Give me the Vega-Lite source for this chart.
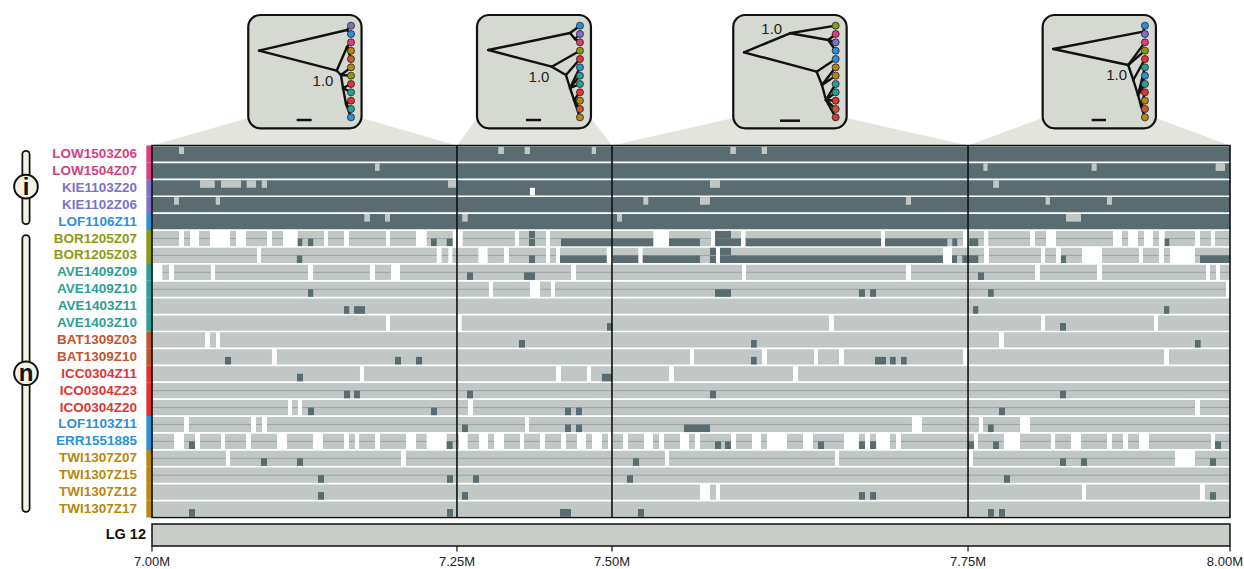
{
"$schema":"https://vega.github.io/schema/vega-lite/v6.json",
"width":1244,"height":569,"autosize":{"type":"none"},"padding":0,"background":"white",
"config":{"view":{"stroke":null},"font":"Liberation Sans"},
"datasets":{
"samples":[
{"s":"LOW1503Z06","g":"LOW"},{"s":"LOW1504Z07","g":"LOW"},{"s":"KIE1103Z20","g":"KIE"},{"s":"KIE1102Z06","g":"KIE"},{"s":"LOF1106Z11","g":"LOF"},
{"s":"BOR1205Z07","g":"BOR"},{"s":"BOR1205Z03","g":"BOR"},{"s":"AVE1409Z09","g":"AVE"},{"s":"AVE1409Z10","g":"AVE"},{"s":"AVE1403Z11","g":"AVE"},{"s":"AVE1403Z10","g":"AVE"},
{"s":"BAT1309Z03","g":"BAT"},{"s":"BAT1309Z10","g":"BAT"},{"s":"ICC0304Z11","g":"ICO"},{"s":"ICO0304Z23","g":"ICO"},{"s":"ICO0304Z20","g":"ICO"},
{"s":"LOF1103Z11","g":"LOF"},{"s":"ERR1551885","g":"LOF"},{"s":"TWI1307Z07","g":"TWI"},{"s":"TWI1307Z15","g":"TWI"},{"s":"TWI1307Z12","g":"TWI"},{"s":"TWI1307Z17","g":"TWI"}],
"full":[
{"s":"LOW1503Z06","a":7000,"b":8000,"c":"D"},{"s":"LOW1504Z07","a":7000,"b":8000,"c":"D"},{"s":"KIE1103Z20","a":7000,"b":8000,"c":"D"},{"s":"KIE1102Z06","a":7000,"b":8000,"c":"D"},{"s":"LOF1106Z11","a":7000,"b":8000,"c":"D"},
{"s":"BOR1205Z07","a":7000,"b":7025.0,"c":"L"},{"s":"BOR1205Z07","a":7029.7,"b":7035.3,"c":"L"},{"s":"BOR1205Z07","a":7043.6,"b":7053.8,"c":"L"},{"s":"BOR1205Z07","a":7072.4,"b":7077.9,"c":"L"},{"s":"BOR1205Z07","a":7087.2,"b":7106.7,"c":"L"},{"s":"BOR1205Z07","a":7111.3,"b":7121.5,"c":"L"},{"s":"BOR1205Z07","a":7135.2,"b":7159.6,"c":"L"},{"s":"BOR1205Z07","a":7163.3,"b":7178.1,"c":"L"},{"s":"BOR1205Z07","a":7182.7,"b":7217.1,"c":"L"},{"s":"BOR1205Z07","a":7220.8,"b":7244.9,"c":"L"},{"s":"BOR1205Z07","a":7254.8,"b":7278.9,"c":"L"},{"s":"BOR1205Z07","a":7288.2,"b":7336.7,"c":"L"},{"s":"BOR1205Z07","a":7340.4,"b":7365.5,"c":"L"},{"s":"BOR1205Z07","a":7369.2,"b":7465.0,"c":"L"},{"s":"BOR1205Z07","a":7479.6,"b":7518.5,"c":"L"},{"s":"BOR1205Z07","a":7522.3,"b":7546.4,"c":"L"},{"s":"BOR1205Z07","a":7550.7,"b":7676.3,"c":"L"},{"s":"BOR1205Z07","a":7680.0,"b":7752.3,"c":"L"},{"s":"BOR1205Z07","a":7757.2,"b":7771.8,"c":"L"},{"s":"BOR1205Z07","a":7775.8,"b":7814.5,"c":"L"},{"s":"BOR1205Z07","a":7819.1,"b":7829.3,"c":"L"},{"s":"BOR1205Z07","a":7838.6,"b":7891.5,"c":"L"},{"s":"BOR1205Z07","a":7899.9,"b":7905.5,"c":"L"},{"s":"BOR1205Z07","a":7914.6,"b":7920.2,"c":"L"},{"s":"BOR1205Z07","a":7928.6,"b":7934.1,"c":"L"},{"s":"BOR1205Z07","a":7939.4,"b":7967.5,"c":"L"},{"s":"BOR1205Z07","a":7972.2,"b":7982.4,"c":"L"},{"s":"BOR1205Z07","a":7986.1,"b":8000,"c":"L"},{"s":"BOR1205Z07","a":7349.7,"b":7355.3,"c":"D"},
{"s":"BOR1205Z03","a":7000,"b":7097.4,"c":"L"},{"s":"BOR1205Z03","a":7101.1,"b":7264.1,"c":"L"},{"s":"BOR1205Z03","a":7268.7,"b":7274.9,"c":"L"},{"s":"BOR1205Z03","a":7278.6,"b":7302.7,"c":"L"},{"s":"BOR1205Z03","a":7311.4,"b":7326.5,"c":"L"},{"s":"BOR1205Z03","a":7331.2,"b":7365.5,"c":"L"},{"s":"BOR1205Z03","a":7369.2,"b":7374.8,"c":"L"},{"s":"BOR1205Z03","a":7378.5,"b":7421.8,"c":"L"},{"s":"BOR1205Z03","a":7427.4,"b":7451.1,"c":"L"},{"s":"BOR1205Z03","a":7455.2,"b":7523.2,"c":"L"},{"s":"BOR1205Z03","a":7526.9,"b":7733.7,"c":"L"},{"s":"BOR1205Z03","a":7742.1,"b":7771.8,"c":"L"},{"s":"BOR1205Z03","a":7776.4,"b":7824.7,"c":"L"},{"s":"BOR1205Z03","a":7828.4,"b":7838.6,"c":"L"},{"s":"BOR1205Z03","a":7843.2,"b":7862.7,"c":"L"},{"s":"BOR1205Z03","a":7881.3,"b":7915.6,"c":"L"},{"s":"BOR1205Z03","a":7919.3,"b":7934.1,"c":"L"},{"s":"BOR1205Z03","a":7938.8,"b":7944.4,"c":"L"},{"s":"BOR1205Z03","a":7967.5,"b":8000,"c":"L"},{"s":"BOR1205Z03","a":7517.6,"b":7523.2,"c":"D"},{"s":"BOR1205Z03","a":7526.9,"b":7537.1,"c":"D"},
{"s":"AVE1409Z09","a":7009.6,"b":7015.8,"c":"L"},{"s":"AVE1409Z09","a":7020.4,"b":7054.7,"c":"L"},{"s":"AVE1409Z09","a":7058.4,"b":7144.7,"c":"L"},{"s":"AVE1409Z09","a":7149.4,"b":7202.2,"c":"L"},{"s":"AVE1409Z09","a":7206.9,"b":7221.7,"c":"L"},{"s":"AVE1409Z09","a":7230.1,"b":7388.7,"c":"L"},{"s":"AVE1409Z09","a":7393.3,"b":7547.3,"c":"L"},{"s":"AVE1409Z09","a":7551.0,"b":7699.4,"c":"L"},{"s":"AVE1409Z09","a":7704.1,"b":7819.1,"c":"L"},{"s":"AVE1409Z09","a":7823.7,"b":7876.6,"c":"L"},{"s":"AVE1409Z09","a":7881.3,"b":7977.7,"c":"L"},{"s":"AVE1409Z09","a":7981.4,"b":7987.0,"c":"L"},{"s":"AVE1409Z09","a":7990.7,"b":8000,"c":"L"},
{"s":"AVE1409Z10","a":7000,"b":7312.6,"c":"L"},{"s":"AVE1409Z10","a":7316.3,"b":7350.6,"c":"L"},{"s":"AVE1409Z10","a":7359.9,"b":7370.1,"c":"L"},{"s":"AVE1409Z10","a":7373.8,"b":7996.3,"c":"L"},
{"s":"AVE1403Z11","a":7000,"b":8000,"c":"L"},
{"s":"AVE1403Z10","a":7000,"b":7217.1,"c":"L"},{"s":"AVE1403Z10","a":7220.8,"b":7282.9,"c":"L"},{"s":"AVE1403Z10","a":7287.3,"b":7628.0,"c":"L"},{"s":"AVE1403Z10","a":7632.6,"b":7824.7,"c":"L"},{"s":"AVE1403Z10","a":7828.4,"b":7929.5,"c":"L"},{"s":"AVE1403Z10","a":7933.2,"b":8000,"c":"L"},
{"s":"BAT1309Z03","a":7000,"b":7049.2,"c":"L"},{"s":"BAT1309Z03","a":7053.8,"b":7059.4,"c":"L"},{"s":"BAT1309Z03","a":7063.1,"b":7785.7,"c":"L"},{"s":"BAT1309Z03","a":7790.3,"b":8000,"c":"L"},
{"s":"BAT1309Z10","a":7000,"b":7111.3,"c":"L"},{"s":"BAT1309Z10","a":7116.0,"b":7499.1,"c":"L"},{"s":"BAT1309Z10","a":7502.8,"b":7565.9,"c":"L"},{"s":"BAT1309Z10","a":7570.5,"b":7614.1,"c":"L"},{"s":"BAT1309Z10","a":7617.8,"b":7637.3,"c":"L"},{"s":"BAT1309Z10","a":7641.9,"b":7752.3,"c":"L"},{"s":"BAT1309Z10","a":7757.0,"b":7938.8,"c":"L"},{"s":"BAT1309Z10","a":7943.4,"b":8000,"c":"L"},
{"s":"ICC0304Z11","a":7000,"b":7192.9,"c":"L"},{"s":"ICC0304Z11","a":7196.7,"b":7374.8,"c":"L"},{"s":"ICC0304Z11","a":7379.4,"b":7403.5,"c":"L"},{"s":"ICC0304Z11","a":7407.2,"b":7479.6,"c":"L"},{"s":"ICC0304Z11","a":7484.2,"b":7594.6,"c":"L"},{"s":"ICC0304Z11","a":7599.3,"b":8000,"c":"L"},
{"s":"ICO0304Z23","a":7000,"b":8000,"c":"L"},
{"s":"ICO0304Z20","a":7000,"b":7126.2,"c":"L"},{"s":"ICO0304Z20","a":7129.9,"b":7135.4,"c":"L"},{"s":"ICO0304Z20","a":7139.1,"b":7293.1,"c":"L"},{"s":"ICO0304Z20","a":7297.8,"b":7967.5,"c":"L"},{"s":"ICO0304Z20","a":7972.2,"b":8000,"c":"L"},
{"s":"LOF1103Z11","a":7000,"b":7029.7,"c":"L"},{"s":"LOF1103Z11","a":7034.3,"b":7091.8,"c":"L"},{"s":"LOF1103Z11","a":7096.5,"b":7102.0,"c":"L"},{"s":"LOF1103Z11","a":7106.7,"b":7346.0,"c":"L"},{"s":"LOF1103Z11","a":7349.7,"b":7705.0,"c":"L"},{"s":"LOF1103Z11","a":7714.3,"b":7767.2,"c":"L"},{"s":"LOF1103Z11","a":7770.9,"b":7805.2,"c":"L"},{"s":"LOF1103Z11","a":7814.5,"b":8000,"c":"L"},
{"s":"ERR1551885","a":7000,"b":7020.4,"c":"L"},{"s":"ERR1551885","a":7029.7,"b":7039.9,"c":"L"},{"s":"ERR1551885","a":7044.5,"b":7064.0,"c":"L"},{"s":"ERR1551885","a":7067.7,"b":7087.2,"c":"L"},{"s":"ERR1551885","a":7091.8,"b":7116.0,"c":"L"},{"s":"ERR1551885","a":7125.2,"b":7149.4,"c":"L"},{"s":"ERR1551885","a":7158.6,"b":7178.1,"c":"L"},{"s":"ERR1551885","a":7182.7,"b":7188.3,"c":"L"},{"s":"ERR1551885","a":7192.0,"b":7206.9,"c":"L"},{"s":"ERR1551885","a":7211.5,"b":7235.6,"c":"L"},{"s":"ERR1551885","a":7244.9,"b":7254.8,"c":"L"},{"s":"ERR1551885","a":7273.4,"b":7284.8,"c":"L"},{"s":"ERR1551885","a":7292.9,"b":7303.3,"c":"L"},{"s":"ERR1551885","a":7311.7,"b":7317.3,"c":"L"},{"s":"ERR1551885","a":7326.5,"b":7341.4,"c":"L"},{"s":"ERR1551885","a":7345.1,"b":7359.9,"c":"L"},{"s":"ERR1551885","a":7364.6,"b":7379.4,"c":"L"},{"s":"ERR1551885","a":7384.0,"b":7394.2,"c":"L"},{"s":"ERR1551885","a":7402.6,"b":7408.2,"c":"L"},{"s":"ERR1551885","a":7417.4,"b":7423.0,"c":"L"},{"s":"ERR1551885","a":7427.6,"b":7436.9,"c":"L"},{"s":"ERR1551885","a":7441.6,"b":7456.4,"c":"L"},{"s":"ERR1551885","a":7464.7,"b":7470.3,"c":"L"},{"s":"ERR1551885","a":7475.0,"b":7489.8,"c":"L"},{"s":"ERR1551885","a":7498.1,"b":7503.7,"c":"L"},{"s":"ERR1551885","a":7508.3,"b":7537.1,"c":"L"},{"s":"ERR1551885","a":7541.7,"b":7556.6,"c":"L"},{"s":"ERR1551885","a":7564.9,"b":7570.5,"c":"L"},{"s":"ERR1551885","a":7589.1,"b":7603.9,"c":"L"},{"s":"ERR1551885","a":7613.2,"b":7641.9,"c":"L"},{"s":"ERR1551885","a":7655.8,"b":7661.4,"c":"L"},{"s":"ERR1551885","a":7666.1,"b":7671.7,"c":"L"},{"s":"ERR1551885","a":7684.6,"b":7690.2,"c":"L"},{"s":"ERR1551885","a":7694.8,"b":7762.5,"c":"L"},{"s":"ERR1551885","a":7766.2,"b":7790.3,"c":"L"},{"s":"ERR1551885","a":7805.2,"b":7834.0,"c":"L"},{"s":"ERR1551885","a":7837.7,"b":7852.5,"c":"L"},{"s":"ERR1551885","a":7861.8,"b":7885.9,"c":"L"},{"s":"ERR1551885","a":7890.5,"b":7900.7,"c":"L"},{"s":"ERR1551885","a":7905.4,"b":7915.6,"c":"L"},{"s":"ERR1551885","a":7924.9,"b":7982.4,"c":"L"},{"s":"ERR1551885","a":7986.1,"b":8000,"c":"L"},
{"s":"TWI1307Z07","a":7000,"b":7068.6,"c":"L"},{"s":"TWI1307Z07","a":7072.4,"b":7231.0,"c":"L"},{"s":"TWI1307Z07","a":7235.6,"b":7475.9,"c":"L"},{"s":"TWI1307Z07","a":7479.6,"b":7633.6,"c":"L"},{"s":"TWI1307Z07","a":7637.3,"b":7757.9,"c":"L"},{"s":"TWI1307Z07","a":7761.6,"b":7949.0,"c":"L"},{"s":"TWI1307Z07","a":7967.5,"b":8000,"c":"L"},
{"s":"TWI1307Z15","a":7000,"b":8000,"c":"L"},
{"s":"TWI1307Z12","a":7000,"b":7508.3,"c":"L"},{"s":"TWI1307Z12","a":7517.6,"b":7523.2,"c":"L"},{"s":"TWI1307Z12","a":7526.9,"b":7862.7,"c":"L"},{"s":"TWI1307Z12","a":7866.4,"b":7972.2,"c":"L"},{"s":"TWI1307Z12","a":7976.8,"b":8000,"c":"L"},
{"s":"TWI1307Z17","a":7000,"b":8000,"c":"L"}],
"half":[
{"s":"LOW1503Z06","a":7025.0,"b":7029.7,"c":"L","h":"t"},{"s":"LOW1503Z06","a":7321.2,"b":7326.5,"c":"L","h":"t"},{"s":"LOW1503Z06","a":7345.7,"b":7350.6,"c":"L","h":"t"},{"s":"LOW1503Z06","a":7407.9,"b":7411.9,"c":"L","h":"t"},{"s":"LOW1503Z06","a":7536.5,"b":7541.7,"c":"L","h":"t"},{"s":"LOW1503Z06","a":7565.6,"b":7570.5,"c":"L","h":"t"},
{"s":"LOW1504Z07","a":7206.9,"b":7211.2,"c":"L","h":"t"},{"s":"LOW1504Z07","a":7771.2,"b":7775.2,"c":"L","h":"t"},{"s":"LOW1504Z07","a":7871.7,"b":7876.3,"c":"L","h":"t"},{"s":"LOW1504Z07","a":7986.7,"b":7995.4,"c":"L","h":"t"},
{"s":"KIE1103Z20","a":7044.5,"b":7058.2,"c":"L","h":"t"},{"s":"KIE1103Z20","a":7064.0,"b":7082.6,"c":"L","h":"t"},{"s":"KIE1103Z20","a":7087.8,"b":7096.5,"c":"L","h":"t"},{"s":"KIE1103Z20","a":7101.8,"b":7106.7,"c":"L","h":"t"},{"s":"KIE1103Z20","a":7274.6,"b":7282.6,"c":"L","h":"t"},{"s":"KIE1103Z20","a":7517.6,"b":7526.9,"c":"L","h":"t"},{"s":"KIE1103Z20","a":7780.4,"b":7785.7,"c":"L","h":"t"},{"s":"KIE1103Z20","a":7350.6,"b":7355.3,"c":"W","h":"b"},
{"s":"KIE1102Z06","a":7020.4,"b":7025.0,"c":"L","h":"t"},{"s":"KIE1102Z06","a":7059.1,"b":7063.1,"c":"L","h":"t"},{"s":"KIE1102Z06","a":7455.8,"b":7460.4,"c":"L","h":"t"},{"s":"KIE1102Z06","a":7508.3,"b":7517.6,"c":"L","h":"t"},{"s":"KIE1102Z06","a":7699.4,"b":7704.1,"c":"L","h":"t"},{"s":"KIE1102Z06","a":7829.0,"b":7833.0,"c":"L","h":"t"},{"s":"KIE1102Z06","a":7885.9,"b":7890.5,"c":"L","h":"t"},
{"s":"LOF1106Z11","a":7196.9,"b":7202.2,"c":"L","h":"t"},{"s":"LOF1106Z11","a":7216.1,"b":7220.8,"c":"L","h":"t"},{"s":"LOF1106Z11","a":7287.8,"b":7292.9,"c":"L","h":"t"},{"s":"LOF1106Z11","a":7431.4,"b":7436.0,"c":"L","h":"t"},{"s":"LOF1106Z11","a":7847.9,"b":7861.8,"c":"L","h":"t"},
{"s":"BOR1205Z07","a":7135.2,"b":7139.4,"c":"D","h":"b"},{"s":"BOR1205Z07","a":7144.7,"b":7149.6,"c":"D","h":"b"},{"s":"BOR1205Z07","a":7258.8,"b":7264.1,"c":"D","h":"b"},{"s":"BOR1205Z07","a":7273.4,"b":7278.9,"c":"D","h":"b"},{"s":"BOR1205Z07","a":7379.4,"b":7465.0,"c":"D","h":"b"},{"s":"BOR1205Z07","a":7479.6,"b":7508.3,"c":"D","h":"b"},{"s":"BOR1205Z07","a":7522.3,"b":7546.4,"c":"D","h":"b"},{"s":"BOR1205Z07","a":7550.7,"b":7676.3,"c":"D","h":"b"},{"s":"BOR1205Z07","a":7680.0,"b":7737.8,"c":"D","h":"b"},{"s":"BOR1205Z07","a":7742.4,"b":7747.0,"c":"D","h":"b"},{"s":"BOR1205Z07","a":7758.1,"b":7766.5,"c":"D","h":"b"},{"s":"BOR1205Z07","a":7939.4,"b":7943.7,"c":"D","h":"b"},{"s":"BOR1205Z07","a":7522.3,"b":7537.1,"c":"D","h":"t"},
{"s":"BOR1205Z03","a":7134.4,"b":7139.4,"c":"D","h":"b"},{"s":"BOR1205Z03","a":7349.7,"b":7355.3,"c":"D","h":"b"},{"s":"BOR1205Z03","a":7378.5,"b":7421.8,"c":"D","h":"b"},{"s":"BOR1205Z03","a":7427.4,"b":7451.1,"c":"D","h":"b"},{"s":"BOR1205Z03","a":7455.2,"b":7508.3,"c":"D","h":"b"},{"s":"BOR1205Z03","a":7526.9,"b":7733.7,"c":"D","h":"b"},{"s":"BOR1205Z03","a":7742.1,"b":7746.8,"c":"D","h":"b"},{"s":"BOR1205Z03","a":7751.7,"b":7766.5,"c":"D","h":"b"},{"s":"BOR1205Z03","a":7843.2,"b":7847.9,"c":"D","h":"b"},{"s":"BOR1205Z03","a":7972.2,"b":8000,"c":"D","h":"b"},
{"s":"AVE1409Z09","a":7292.2,"b":7297.8,"c":"D","h":"b"},{"s":"AVE1409Z09","a":7345.1,"b":7355.3,"c":"D","h":"b"},{"s":"AVE1409Z09","a":7766.2,"b":7771.8,"c":"D","h":"b"},
{"s":"AVE1409Z10","a":7144.7,"b":7149.6,"c":"D","h":"b"},{"s":"AVE1409Z10","a":7522.3,"b":7537.1,"c":"D","h":"b"},{"s":"AVE1409Z10","a":7655.8,"b":7661.4,"c":"D","h":"b"},{"s":"AVE1409Z10","a":7666.1,"b":7671.7,"c":"D","h":"b"},{"s":"AVE1409Z10","a":7775.5,"b":7780.8,"c":"D","h":"b"},
{"s":"AVE1403Z11","a":7178.1,"b":7183.0,"c":"D","h":"b"},{"s":"AVE1403Z11","a":7187.4,"b":7197.6,"c":"D","h":"b"},{"s":"AVE1403Z11","a":7761.6,"b":7766.5,"c":"D","h":"b"},{"s":"AVE1403Z11","a":7938.8,"b":7943.7,"c":"D","h":"b"},
{"s":"AVE1403Z10","a":7422.1,"b":7427.4,"c":"D","h":"b"},{"s":"AVE1403Z10","a":7842.3,"b":7847.9,"c":"D","h":"b"},
{"s":"BAT1309Z03","a":7340.4,"b":7346.0,"c":"D","h":"b"},{"s":"BAT1309Z03","a":7555.7,"b":7561.0,"c":"D","h":"b"},{"s":"BAT1309Z03","a":7967.5,"b":7972.8,"c":"D","h":"b"},
{"s":"BAT1309Z10","a":7067.7,"b":7073.3,"c":"D","h":"b"},{"s":"BAT1309Z10","a":7225.4,"b":7231.0,"c":"D","h":"b"},{"s":"BAT1309Z10","a":7244.9,"b":7250.5,"c":"D","h":"b"},{"s":"BAT1309Z10","a":7555.7,"b":7561.0,"c":"D","h":"b"},{"s":"BAT1309Z10","a":7670.7,"b":7680.9,"c":"D","h":"b"},{"s":"BAT1309Z10","a":7684.6,"b":7689.9,"c":"D","h":"b"},{"s":"BAT1309Z10","a":7694.8,"b":7700.1,"c":"D","h":"b"},
{"s":"ICC0304Z11","a":7134.5,"b":7140.1,"c":"D","h":"b"},{"s":"ICC0304Z11","a":7417.4,"b":7426.7,"c":"D","h":"b"},
{"s":"ICO0304Z23","a":7178.1,"b":7183.7,"c":"D","h":"b"},{"s":"ICO0304Z23","a":7187.4,"b":7192.9,"c":"D","h":"b"},{"s":"ICO0304Z23","a":7292.2,"b":7297.8,"c":"D","h":"b"},{"s":"ICO0304Z23","a":7517.6,"b":7523.2,"c":"D","h":"b"},{"s":"ICO0304Z23","a":7842.3,"b":7847.9,"c":"D","h":"b"},
{"s":"ICO0304Z20","a":7144.7,"b":7150.3,"c":"D","h":"b"},{"s":"ICO0304Z20","a":7258.8,"b":7264.4,"c":"D","h":"b"},{"s":"ICO0304Z20","a":7383.1,"b":7388.7,"c":"D","h":"b"},{"s":"ICO0304Z20","a":7393.3,"b":7398.9,"c":"D","h":"b"},{"s":"ICO0304Z20","a":7785.7,"b":7791.3,"c":"D","h":"b"},
{"s":"LOF1103Z11","a":7287.6,"b":7293.1,"c":"D","h":"b"},{"s":"LOF1103Z11","a":7383.1,"b":7388.7,"c":"D","h":"b"},{"s":"LOF1103Z11","a":7393.3,"b":7398.9,"c":"D","h":"b"},{"s":"LOF1103Z11","a":7493.5,"b":7517.6,"c":"D","h":"b"},{"s":"LOF1103Z11","a":7775.5,"b":7780.8,"c":"D","h":"b"},
{"s":"ERR1551885","a":7034.3,"b":7039.9,"c":"D","h":"b"},{"s":"ERR1551885","a":7273.4,"b":7278.9,"c":"D","h":"b"},{"s":"ERR1551885","a":7522.3,"b":7527.9,"c":"D","h":"b"},{"s":"ERR1551885","a":7531.5,"b":7537.1,"c":"D","h":"b"},{"s":"ERR1551885","a":7617.8,"b":7623.4,"c":"D","h":"b"},{"s":"ERR1551885","a":7655.8,"b":7661.4,"c":"D","h":"b"},{"s":"ERR1551885","a":7666.1,"b":7671.7,"c":"D","h":"b"},{"s":"ERR1551885","a":7757.0,"b":7762.5,"c":"D","h":"b"},{"s":"ERR1551885","a":7780.2,"b":7785.7,"c":"D","h":"b"},{"s":"ERR1551885","a":7986.1,"b":7991.7,"c":"D","h":"b"},
{"s":"TWI1307Z07","a":7101.1,"b":7106.7,"c":"D","h":"b"},{"s":"TWI1307Z07","a":7134.5,"b":7140.1,"c":"D","h":"b"},{"s":"TWI1307Z07","a":7446.2,"b":7451.8,"c":"D","h":"b"},{"s":"TWI1307Z07","a":7842.3,"b":7847.9,"c":"D","h":"b"},{"s":"TWI1307Z07","a":7861.8,"b":7867.3,"c":"D","h":"b"},{"s":"TWI1307Z07","a":7981.4,"b":7987.0,"c":"D","h":"b"},
{"s":"TWI1307Z15","a":7154.0,"b":7159.6,"c":"D","h":"b"},{"s":"TWI1307Z15","a":7273.7,"b":7279.2,"c":"D","h":"b"},{"s":"TWI1307Z15","a":7297.8,"b":7303.3,"c":"D","h":"b"},{"s":"TWI1307Z15","a":7440.6,"b":7446.2,"c":"D","h":"b"},{"s":"TWI1307Z15","a":7790.3,"b":7795.9,"c":"D","h":"b"},
{"s":"TWI1307Z12","a":7154.0,"b":7159.6,"c":"D","h":"b"},{"s":"TWI1307Z12","a":7287.6,"b":7293.1,"c":"D","h":"b"},{"s":"TWI1307Z12","a":7655.8,"b":7661.4,"c":"D","h":"b"},{"s":"TWI1307Z12","a":7666.1,"b":7671.7,"c":"D","h":"b"},{"s":"TWI1307Z12","a":7981.4,"b":7987.0,"c":"D","h":"b"},
{"s":"TWI1307Z17","a":7034.3,"b":7039.9,"c":"D","h":"b"},{"s":"TWI1307Z17","a":7273.7,"b":7279.2,"c":"D","h":"b"},{"s":"TWI1307Z17","a":7378.5,"b":7388.7,"c":"D","h":"b"},{"s":"TWI1307Z17","a":7450.8,"b":7456.4,"c":"D","h":"b"},{"s":"TWI1307Z17","a":7775.5,"b":7781.1,"c":"D","h":"b"},{"s":"TWI1307Z17","a":7785.7,"b":7791.3,"c":"D","h":"b"}],
"trap":[
{"t":1,"y":-1.13,"xl":7089.3,"xr":7194.4},{"t":1,"y":0.5,"xl":7000,"xr":7282.9},
{"t":2,"y":-1.13,"xl":7301.5,"xr":7407.2},{"t":2,"y":0.5,"xl":7282.9,"xr":7426.7},
{"t":3,"y":-1.13,"xl":7539.2,"xr":7644.4},{"t":3,"y":0.5,"xl":7426.7,"xr":7757.0},
{"t":4,"y":-1.13,"xl":7826.2,"xr":7931.3},{"t":4,"y":0.5,"xl":7757.0,"xr":8000}],
"boxes":[
{"t":1,"x1":7089.3,"x2":7194.4,"y1":-7.222,"y2":-0.52},{"t":2,"x1":7301.5,"x2":7407.2,"y1":-7.222,"y2":-0.52},{"t":3,"x1":7539.2,"x2":7644.4,"y1":-7.222,"y2":-0.52},{"t":4,"x1":7826.2,"x2":7931.3,"y1":-7.222,"y2":-0.52}],
"edges":[
{"t":1,"x":7099.3,"y":-5.111,"x2":7180.9,"y2":-6.335},{"t":1,"x":7180.9,"y":-6.335,"x2":7184.6,"y2":-6.590},{"t":1,"x":7180.9,"y":-6.335,"x2":7184.6,"y2":-6.097},
{"t":1,"x":7099.3,"y":-5.111,"x2":7171.3,"y2":-3.928},{"t":1,"x":7171.3,"y":-3.928,"x2":7180.9,"y2":-5.330},{"t":1,"x":7180.9,"y":-5.330,"x2":7184.6,"y2":-5.604},{"t":1,"x":7180.9,"y":-5.330,"x2":7184.6,"y2":-5.111},{"t":1,"x":7180.9,"y":-5.330,"x2":7184.6,"y2":-4.618},
{"t":1,"x":7171.3,"y":-3.928,"x2":7175.3,"y2":-3.673},{"t":1,"x":7175.3,"y":-3.673,"x2":7184.6,"y2":-4.126},{"t":1,"x":7175.3,"y":-3.673,"x2":7184.6,"y2":-3.633},{"t":1,"x":7175.3,"y":-3.673,"x2":7177.2,"y2":-2.904},
{"t":1,"x":7177.2,"y":-2.904,"x2":7184.6,"y2":-3.140},{"t":1,"x":7177.2,"y":-2.904,"x2":7184.6,"y2":-2.647},{"t":1,"x":7177.2,"y":-2.904,"x2":7180.0,"y2":-1.958},
{"t":1,"x":7180.0,"y":-1.958,"x2":7184.6,"y2":-2.154},{"t":1,"x":7180.0,"y":-1.958,"x2":7184.6,"y2":-1.661},{"t":1,"x":7180.0,"y":-1.958,"x2":7184.6,"y2":-1.168},
{"t":2,"x":7312.0,"y":-5.152,"x2":7387.8,"y2":-6.158},{"t":2,"x":7387.8,"y":-6.158,"x2":7397.0,"y2":-6.590},{"t":2,"x":7387.8,"y":-6.158,"x2":7392.4,"y2":-5.803},{"t":2,"x":7392.4,"y":-5.803,"x2":7397.0,"y2":-6.097},{"t":2,"x":7392.4,"y":-5.803,"x2":7397.0,"y2":-5.604},
{"t":2,"x":7312.0,"y":-5.152,"x2":7370.8,"y2":-4.164},{"t":2,"x":7370.8,"y":-4.164,"x2":7397.0,"y2":-5.111},{"t":2,"x":7370.8,"y":-4.164,"x2":7384.0,"y2":-3.673},{"t":2,"x":7384.0,"y":-3.673,"x2":7397.0,"y2":-4.618},{"t":2,"x":7384.0,"y":-3.673,"x2":7387.8,"y2":-2.904},
{"t":2,"x":7387.8,"y":-2.904,"x2":7397.0,"y2":-4.126},{"t":2,"x":7387.8,"y":-2.904,"x2":7397.0,"y2":-3.633},{"t":2,"x":7387.8,"y":-2.904,"x2":7397.0,"y2":-3.140},{"t":2,"x":7387.8,"y":-2.904,"x2":7391.5,"y2":-2.195},
{"t":2,"x":7391.5,"y":-2.195,"x2":7397.0,"y2":-2.647},{"t":2,"x":7391.5,"y":-2.195,"x2":7397.0,"y2":-2.154},{"t":2,"x":7391.5,"y":-2.195,"x2":7397.0,"y2":-1.661},{"t":2,"x":7391.5,"y":-2.195,"x2":7397.0,"y2":-1.168},
{"t":3,"x":7549.2,"y":-5.016,"x2":7591.8,"y2":-6.140},{"t":3,"x":7591.8,"y":-6.140,"x2":7634.2,"y2":-6.590},{"t":3,"x":7591.8,"y":-6.140,"x2":7627.4,"y2":-5.744},{"t":3,"x":7627.4,"y":-5.744,"x2":7634.2,"y2":-6.097},{"t":3,"x":7627.4,"y":-5.744,"x2":7634.2,"y2":-5.604},{"t":3,"x":7627.4,"y":-5.744,"x2":7634.2,"y2":-5.111},
{"t":3,"x":7549.2,"y":-5.016,"x2":7616.6,"y2":-3.868},{"t":3,"x":7616.6,"y":-3.868,"x2":7634.2,"y2":-4.618},{"t":3,"x":7616.6,"y":-3.868,"x2":7621.5,"y2":-3.081},{"t":3,"x":7621.5,"y":-3.081,"x2":7634.2,"y2":-4.126},{"t":3,"x":7621.5,"y":-3.081,"x2":7634.2,"y2":-3.633},{"t":3,"x":7621.5,"y":-3.081,"x2":7625.2,"y2":-2.195},
{"t":3,"x":7625.2,"y":-2.195,"x2":7634.2,"y2":-3.140},{"t":3,"x":7625.2,"y":-2.195,"x2":7634.2,"y2":-2.647},{"t":3,"x":7625.2,"y":-2.195,"x2":7634.2,"y2":-2.154},{"t":3,"x":7625.2,"y":-2.195,"x2":7634.2,"y2":-1.661},{"t":3,"x":7625.2,"y":-2.195,"x2":7634.2,"y2":-1.168},
{"t":4,"x":7836.1,"y":-5.211,"x2":7919.6,"y2":-6.235},{"t":4,"x":7919.6,"y":-6.235,"x2":7921.1,"y2":-6.590},{"t":4,"x":7919.6,"y":-6.235,"x2":7921.1,"y2":-6.097},
{"t":4,"x":7836.1,"y":-5.211,"x2":7905.6,"y2":-4.265},{"t":4,"x":7905.6,"y":-4.265,"x2":7921.1,"y2":-5.604},{"t":4,"x":7905.6,"y":-4.265,"x2":7921.1,"y2":-5.111},{"t":4,"x":7905.6,"y":-4.265,"x2":7910.3,"y2":-3.377},
{"t":4,"x":7910.3,"y":-3.377,"x2":7921.1,"y2":-4.618},{"t":4,"x":7910.3,"y":-3.377,"x2":7914.7,"y2":-2.490},{"t":4,"x":7914.7,"y":-2.490,"x2":7921.1,"y2":-4.126},{"t":4,"x":7914.7,"y":-2.490,"x2":7921.1,"y2":-3.633},{"t":4,"x":7914.7,"y":-2.490,"x2":7921.1,"y2":-3.140},{"t":4,"x":7914.7,"y":-2.490,"x2":7917.5,"y2":-1.839},
{"t":4,"x":7917.5,"y":-1.839,"x2":7921.1,"y2":-2.647},{"t":4,"x":7917.5,"y":-1.839,"x2":7921.1,"y2":-2.154},{"t":4,"x":7917.5,"y":-1.839,"x2":7921.1,"y2":-1.661},{"t":4,"x":7917.5,"y":-1.839,"x2":7921.1,"y2":-1.168}],
"leaves":[
{"x":7184.6,"y":-6.590,"g":"KIE"},{"x":7184.6,"y":-6.097,"g":"LOF"},{"x":7184.6,"y":-5.604,"g":"LOW"},{"x":7184.6,"y":-5.111,"g":"TWI"},{"x":7184.6,"y":-4.618,"g":"BAT"},{"x":7184.6,"y":-4.126,"g":"TWI"},{"x":7184.6,"y":-3.633,"g":"BOR"},{"x":7184.6,"y":-3.140,"g":"ICO"},{"x":7184.6,"y":-2.647,"g":"AVE"},{"x":7184.6,"y":-2.154,"g":"ICO"},{"x":7184.6,"y":-1.661,"g":"AVE"},{"x":7184.6,"y":-1.168,"g":"LOF"},
{"x":7397.0,"y":-6.590,"g":"LOF"},{"x":7397.0,"y":-6.097,"g":"KIE"},{"x":7397.0,"y":-5.604,"g":"LOW"},{"x":7397.0,"y":-5.111,"g":"BOR"},{"x":7397.0,"y":-4.618,"g":"ICO"},{"x":7397.0,"y":-4.126,"g":"LOF"},{"x":7397.0,"y":-3.633,"g":"AVE"},{"x":7397.0,"y":-3.140,"g":"AVE"},{"x":7397.0,"y":-2.647,"g":"ICO"},{"x":7397.0,"y":-2.154,"g":"TWI"},{"x":7397.0,"y":-1.661,"g":"BAT"},{"x":7397.0,"y":-1.168,"g":"TWI"},
{"x":7634.2,"y":-6.590,"g":"BOR"},{"x":7634.2,"y":-6.097,"g":"LOW"},{"x":7634.2,"y":-5.604,"g":"KIE"},{"x":7634.2,"y":-5.111,"g":"LOF"},{"x":7634.2,"y":-4.618,"g":"LOF"},{"x":7634.2,"y":-4.126,"g":"TWI"},{"x":7634.2,"y":-3.633,"g":"TWI"},{"x":7634.2,"y":-3.140,"g":"AVE"},{"x":7634.2,"y":-2.647,"g":"AVE"},{"x":7634.2,"y":-2.154,"g":"ICO"},{"x":7634.2,"y":-1.661,"g":"BAT"},{"x":7634.2,"y":-1.168,"g":"ICO"},
{"x":7921.1,"y":-6.590,"g":"LOF"},{"x":7921.1,"y":-6.097,"g":"KIE"},{"x":7921.1,"y":-5.604,"g":"LOW"},{"x":7921.1,"y":-5.111,"g":"BOR"},{"x":7921.1,"y":-4.618,"g":"ICO"},{"x":7921.1,"y":-4.126,"g":"AVE"},{"x":7921.1,"y":-3.633,"g":"LOF"},{"x":7921.1,"y":-3.140,"g":"AVE"},{"x":7921.1,"y":-2.647,"g":"ICO"},{"x":7921.1,"y":-2.154,"g":"TWI"},{"x":7921.1,"y":-1.661,"g":"BAT"},{"x":7921.1,"y":-1.168,"g":"TWI"}],
"support":[{"x":7158.6,"y":-3.336,"l":"1.0"},{"x":7359.0,"y":-3.573,"l":"1.0"},{"x":7574.9,"y":-6.394,"l":"1.0"},{"x":7894.9,"y":-3.673,"l":"1.0"}],
"sbars":[{"x":7134.2,"x2":7148.1,"y":-1.011},{"x":7346.9,"x2":7360.9,"y":-1.011},{"x":7582.6,"x2":7601.1,"y":-0.97},{"x":7871.7,"x2":7885.0,"y":-1.011}],
"pills":[{"y":1.03,"y2":4.934,"y3":2.933,"l":"i"},{"y":6.016,"y2":21.953,"y3":13.97,"l":"n"}],
"ticks":[{"p":7000,"l":"7.00M"},{"p":7282.9,"l":"7.25M"},{"p":7426.7,"l":"7.50M"},{"p":7757.0,"l":"7.75M"},{"p":8000,"l":"8.00M"}],
"bounds":[{"p":7282.9},{"p":7426.7},{"p":7757.0}]
},
"layer":[
{"layer":[
{"data":{"name":"trap"},"mark":{"type":"area","orient":"horizontal","color":"#e3e4de"},
 "encoding":{"y":{"field":"y","type":"quantitative","scale":{"domain":[-8.1097,25.549],"reverse":true,"nice":false,"zero":false},"axis":null},
 "x":{"field":"xl","type":"quantitative","scale":{"domain":[6859,8013],"nice":false,"zero":false},"axis":null},"x2":{"field":"xr"},"detail":{"field":"t"}}},
{"data":{"name":"boxes"},"mark":{"type":"rect","cornerRadius":12,"fill":"#d6d9d2","stroke":"#111111","strokeWidth":2.2},
 "encoding":{"x":{"field":"x1","type":"quantitative","scale":{"domain":[6859,8013],"nice":false,"zero":false},"axis":null},"x2":{"field":"x2"},
 "y":{"field":"y1","type":"quantitative","scale":{"domain":[-8.1097,25.549],"reverse":true,"nice":false,"zero":false},"axis":null},"y2":{"field":"y2"}}},
{"data":{"name":"edges"},"mark":{"type":"rule","color":"#111111","strokeWidth":2.4,"strokeCap":"round"},
 "encoding":{"x":{"field":"x","type":"quantitative","scale":{"domain":[6859,8013],"nice":false,"zero":false},"axis":null},"x2":{"field":"x2"},
 "y":{"field":"y","type":"quantitative","scale":{"domain":[-8.1097,25.549],"reverse":true,"nice":false,"zero":false},"axis":null},"y2":{"field":"y2"}}},
{"data":{"name":"leaves"},"mark":{"type":"point","shape":"circle","filled":true,"size":50,"stroke":"#222222","strokeWidth":0.8,"opacity":1},
 "encoding":{"x":{"field":"x","type":"quantitative","scale":{"domain":[6859,8013],"nice":false,"zero":false},"axis":null},
 "y":{"field":"y","type":"quantitative","scale":{"domain":[-8.1097,25.549],"reverse":true,"nice":false,"zero":false},"axis":null},
 "fill":{"field":"g","type":"nominal","scale":{"domain":["LOW","KIE","LOF","BOR","AVE","BAT","ICO","TWI"],"range":["#d6407f","#7b72c6","#2d8fd5","#8c9a12","#2aa094","#d2562a","#de3535","#b8880c"]},"legend":null}}},
{"data":{"name":"support"},"mark":{"type":"text","fontSize":15,"color":"#222222","align":"center","baseline":"middle"},
 "encoding":{"x":{"field":"x","type":"quantitative","scale":{"domain":[6859,8013],"nice":false,"zero":false},"axis":null},
 "y":{"field":"y","type":"quantitative","scale":{"domain":[-8.1097,25.549],"reverse":true,"nice":false,"zero":false},"axis":null},"text":{"field":"l"}}},
{"data":{"name":"sbars"},"mark":{"type":"rule","color":"#111111","strokeWidth":2.5},
 "encoding":{"x":{"field":"x","type":"quantitative","scale":{"domain":[6859,8013],"nice":false,"zero":false},"axis":null},"x2":{"field":"x2"},
 "y":{"field":"y","type":"quantitative","scale":{"domain":[-8.1097,25.549],"reverse":true,"nice":false,"zero":false},"axis":null}}},
{"data":{"name":"pills"},"mark":{"type":"rule","color":"#111111","strokeWidth":9,"strokeCap":"round"},
 "encoding":{"x":{"datum":6883.1,"type":"quantitative","scale":{"domain":[6859,8013],"nice":false,"zero":false},"axis":null},
 "y":{"field":"y","type":"quantitative","scale":{"domain":[-8.1097,25.549],"reverse":true,"nice":false,"zero":false},"axis":null},"y2":{"field":"y2"}}},
{"data":{"name":"pills"},"mark":{"type":"rule","color":"#f3f1e2","strokeWidth":5.5,"strokeCap":"round"},
 "encoding":{"x":{"datum":6883.1,"type":"quantitative","scale":{"domain":[6859,8013],"nice":false,"zero":false},"axis":null},
 "y":{"field":"y","type":"quantitative","scale":{"domain":[-8.1097,25.549],"reverse":true,"nice":false,"zero":false},"axis":null},"y2":{"field":"y2"}}},
{"data":{"name":"pills"},"mark":{"type":"point","shape":"circle","filled":true,"fill":"#f3f1e2","stroke":"#111111","strokeWidth":2,"size":560,"opacity":1},
 "encoding":{"x":{"datum":6883.1,"type":"quantitative","scale":{"domain":[6859,8013],"nice":false,"zero":false},"axis":null},
 "y":{"field":"y3","type":"quantitative","scale":{"domain":[-8.1097,25.549],"reverse":true,"nice":false,"zero":false},"axis":null}}},
{"data":{"name":"pills"},"mark":{"type":"text","fontSize":24,"fontWeight":"bold","color":"#111111","align":"center","baseline":"middle","dy":1},
 "encoding":{"x":{"datum":6883.1,"type":"quantitative","scale":{"domain":[6859,8013],"nice":false,"zero":false},"axis":null},
 "y":{"field":"y3","type":"quantitative","scale":{"domain":[-8.1097,25.549],"reverse":true,"nice":false,"zero":false},"axis":null},"text":{"field":"l"}}},
{"data":{"values":[{"n":"LG 12"}]},"mark":{"type":"rect","fill":"#c9cec8","stroke":"#111111","strokeWidth":1.5},
 "encoding":{"x":{"datum":7000,"type":"quantitative","scale":{"domain":[6859,8013],"nice":false,"zero":false},"axis":null},"x2":{"datum":8000},
 "y":{"datum":22.887,"type":"quantitative","scale":{"domain":[-8.1097,25.549],"reverse":true,"nice":false,"zero":false},"axis":null},"y2":{"datum":24.189}}},
{"data":{"values":[{"n":"LG 12"}]},"mark":{"type":"text","fontSize":14.5,"fontWeight":"bold","color":"#111111","align":"right","baseline":"middle","dx":-6},
 "encoding":{"x":{"datum":7000,"type":"quantitative","scale":{"domain":[6859,8013],"nice":false,"zero":false},"axis":null},
 "y":{"datum":23.54,"type":"quantitative","scale":{"domain":[-8.1097,25.549],"reverse":true,"nice":false,"zero":false},"axis":null},"text":{"field":"n"}}},
{"data":{"name":"ticks"},"mark":{"type":"rule","color":"#111111","strokeWidth":1.2},
 "encoding":{"x":{"field":"p","type":"quantitative","scale":{"domain":[6859,8013],"nice":false,"zero":false},"axis":null},
 "y":{"datum":24.189,"type":"quantitative","scale":{"domain":[-8.1097,25.549],"reverse":true,"nice":false,"zero":false},"axis":null},"y2":{"datum":24.52}}},
{"data":{"name":"ticks"},"transform":[{"filter":"datum.p < 8000"}],"mark":{"type":"text","fontSize":13,"color":"#222222","align":"center","baseline":"middle"},
 "encoding":{"x":{"field":"p","type":"quantitative","scale":{"domain":[6859,8013],"nice":false,"zero":false},"axis":null},
 "y":{"datum":25.15,"type":"quantitative","scale":{"domain":[-8.1097,25.549],"reverse":true,"nice":false,"zero":false},"axis":null},"text":{"field":"l"}}},
{"data":{"name":"ticks"},"transform":[{"filter":"datum.p >= 8000"}],"mark":{"type":"text","fontSize":13,"color":"#222222","align":"right","baseline":"middle","dx":13},
 "encoding":{"x":{"field":"p","type":"quantitative","scale":{"domain":[6859,8013],"nice":false,"zero":false},"axis":null},
 "y":{"datum":25.15,"type":"quantitative","scale":{"domain":[-8.1097,25.549],"reverse":true,"nice":false,"zero":false},"axis":null},"text":{"field":"l"}}}
]},
{"layer":[
{"data":{"name":"full"},"mark":{"type":"rect"},
 "encoding":{"x":{"field":"a","type":"quantitative","scale":{"domain":[6859,8013],"nice":false,"zero":false},"axis":null},"x2":{"field":"b"},
 "y":{"field":"s","type":"nominal","sort":null,"scale":{"domain":["LOW1503Z06","LOW1504Z07","KIE1103Z20","KIE1102Z06","LOF1106Z11","BOR1205Z07","BOR1205Z03","AVE1409Z09","AVE1409Z10","AVE1403Z11","AVE1403Z10","BAT1309Z03","BAT1309Z10","ICC0304Z11","ICO0304Z23","ICO0304Z20","LOF1103Z11","ERR1551885","TWI1307Z07","TWI1307Z15","TWI1307Z12","TWI1307Z17"],"range":[145.55,517.46],"paddingInner":0.1,"paddingOuter":0.05},"axis":null},
 "fill":{"field":"c","type":"nominal","scale":{"domain":["L","D","W"],"range":["#c0c7c5","#586c72","#ffffff"]},"legend":null}}},
{"data":{"name":"full"},"transform":[{"filter":"indexof(['BOR1205Z07','BOR1205Z03','AVE1409Z09','AVE1409Z10','ICO0304Z23','ICO0304Z20','LOF1103Z11','ERR1551885','TWI1307Z07','TWI1307Z15'], datum.s) >= 0 && datum.c == 'L'"}],
 "mark":{"type":"rule","color":"#9aa5a4","strokeWidth":1},
 "encoding":{"x":{"field":"a","type":"quantitative","scale":{"domain":[6859,8013],"nice":false,"zero":false},"axis":null},"x2":{"field":"b"},
 "y":{"field":"s","type":"nominal","sort":null,"axis":null}}},
{"data":{"name":"half"},"mark":{"type":"rect"},
 "encoding":{"x":{"field":"a","type":"quantitative","scale":{"domain":[6859,8013],"nice":false,"zero":false},"axis":null},"x2":{"field":"b"},
 "y":{"field":"s","type":"nominal","sort":null,"axis":null},
 "yOffset":{"field":"h","type":"nominal","scale":{"domain":["t","b"],"paddingInner":0,"paddingOuter":0}},
 "fill":{"field":"c","type":"nominal","legend":null}}},
{"data":{"name":"samples"},"mark":{"type":"rect","strokeWidth":1.8},
 "encoding":{"x":{"datum":6995.6,"type":"quantitative","scale":{"domain":[6859,8013],"nice":false,"zero":false},"axis":null},"x2":{"datum":6999.6},
 "y":{"field":"s","type":"nominal","sort":null,"axis":null},
 "color":{"field":"g","type":"nominal","scale":{"domain":["LOW","KIE","LOF","BOR","AVE","BAT","ICO","TWI"],"range":["#d6407f","#7b72c6","#2d8fd5","#8c9a12","#2aa094","#bf5530","#de3535","#b8880c"]},"legend":null},
 "stroke":{"field":"g","type":"nominal","scale":{"domain":["LOW","KIE","LOF","BOR","AVE","BAT","ICO","TWI"],"range":["#d6407f","#7b72c6","#2d8fd5","#8c9a12","#2aa094","#bf5530","#de3535","#b8880c"]},"legend":null}}},
{"data":{"name":"samples"},"mark":{"type":"text","fontSize":13.5,"fontWeight":"bold","align":"right","baseline":"middle","dx":-15},
 "encoding":{"x":{"datum":7000,"type":"quantitative","scale":{"domain":[6859,8013],"nice":false,"zero":false},"axis":null},
 "y":{"field":"s","type":"nominal","sort":null,"axis":null},"text":{"field":"s"},
 "color":{"field":"g","type":"nominal","legend":null}}}
]},
{"layer":[
{"data":{"values":[{"n":"track"}]},"mark":{"type":"rect","fillOpacity":0,"fill":"white","stroke":"#111111","strokeWidth":1.6},
 "encoding":{"x":{"datum":7000,"type":"quantitative","scale":{"domain":[6859,8013],"nice":false,"zero":false},"axis":null},"x2":{"datum":8000},
 "y":{"datum":0.5,"type":"quantitative","scale":{"domain":[-8.1097,25.549],"reverse":true,"nice":false,"zero":false},"axis":null},"y2":{"datum":22.5}}},
{"data":{"name":"bounds"},"mark":{"type":"rule","color":"#111111","strokeWidth":1.6},
 "encoding":{"x":{"field":"p","type":"quantitative","scale":{"domain":[6859,8013],"nice":false,"zero":false},"axis":null},
 "y":{"datum":0.5,"type":"quantitative","scale":{"domain":[-8.1097,25.549],"reverse":true,"nice":false,"zero":false},"axis":null},"y2":{"datum":22.5}}}
]}
],
"resolve":{"scale":{"y":"independent","fill":"independent","color":"independent","stroke":"independent"}}
}
